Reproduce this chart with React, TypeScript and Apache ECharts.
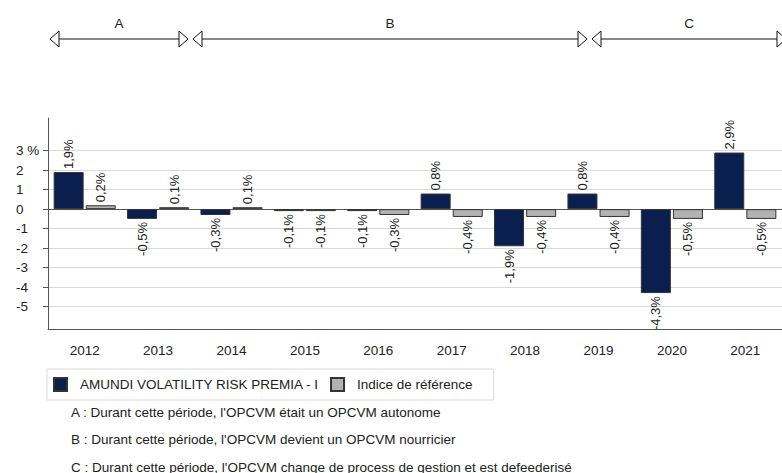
import React, { useEffect, useRef } from "react";
import * as echarts from "echarts";

const years = ["2012", "2013", "2014", "2015", "2016", "2017", "2018", "2019", "2020", "2021"];
const fundValues = [1.9, -0.5, -0.3, -0.1, -0.1, 0.8, -1.9, 0.8, -4.3, 2.9];
const benchValues = [0.2, 0.1, 0.1, -0.1, -0.3, -0.4, -0.4, -0.4, -0.5, -0.5];
const seriesNames = ["AMUNDI VOLATILITY RISK PREMIA - I", "Indice de référence"];
const yTicks = [-5, -4, -3, -2, -1, 0, 1, 2, 3];
const periodLabels = ["A", "B", "C"];
const footnotes = [
  "A : Durant cette période, l'OPCVM était un OPCVM autonome",
  "B : Durant cette période, l'OPCVM devient un OPCVM nourricier",
  "C : Durant cette période, l'OPCVM change de process de gestion et est defeederisé",
];

const FONT = "Liberation Sans, Arial, sans-serif";
const TEXT = "#222222";

const fmt = (v: number) => v.toFixed(1).replace(".", ",") + "%";

const posLabel = {
  show: true,
  position: "top",
  rotate: 90,
  align: "left",
  verticalAlign: "middle",
  distance: 3,
};
const negLabel = {
  show: true,
  position: "bottom",
  rotate: 90,
  align: "right",
  verticalAlign: "middle",
  distance: 3,
};

const toData = (arr: number[]) =>
  arr.map((v) => ({ value: v, label: v >= 0 ? posLabel : negLabel }));

// arrow spans (pixel layout only)
const arrowSpans = [
  [50, 188],
  [193, 587],
  [592, 786],
];

export default function App() {
  const ref = useRef<HTMLDivElement>(null);
  useEffect(() => {
    if (!ref.current) return;
    const chart = echarts.init(ref.current, undefined, { renderer: "svg" });

    const graphics: any[] = [];
    const lineY = 39;
    arrowSpans.forEach(([a, b], i) => {
      graphics.push({
        type: "line",
        shape: { x1: a + 9, y1: lineY, x2: b - 9, y2: lineY },
        style: { stroke: "#111", lineWidth: 1.2 },
      });
      graphics.push({
        type: "polygon",
        shape: { points: [[a, lineY], [a + 9, lineY - 8], [a + 9, lineY + 8]] },
        style: { fill: "#fff", stroke: "#111", lineWidth: 1 },
      });
      graphics.push({
        type: "polygon",
        shape: { points: [[b, lineY], [b - 9, lineY - 8], [b - 9, lineY + 8]] },
        style: { fill: "#fff", stroke: "#111", lineWidth: 1 },
      });
      graphics.push({
        type: "text",
        x: (a + b) / 2,
        y: 23,
        style: {
          text: periodLabels[i],
          fill: TEXT,
          font: `13.5px ${FONT}`,
          textAlign: "center",
          textVerticalAlign: "middle",
        },
      });
    });
    footnotes.forEach((t, i) => {
      graphics.push({
        type: "text",
        x: 71,
        y: 412 + i * 27.5,
        style: {
          text: t,
          fill: TEXT,
          font: `13.5px ${FONT}`,
          textAlign: "left",
          textVerticalAlign: "middle",
        },
      });
    });

    const gridColors = yTicks.map((v) => (v === 0 ? "#555555" : "#d9d9d9"));

    chart.setOption({
      animation: false,
      textStyle: { fontFamily: FONT },
      grid: { left: 48, top: 118, right: -12, bottom: 144, containLabel: false },
      legend: {
        left: 47,
        top: 369,
        orient: "horizontal",
        icon: "rect",
        itemWidth: 13,
        itemHeight: 13,
        itemGap: 11,
        padding: [8, 21, 8, 6],
        borderColor: "#d9d9d9",
        borderWidth: 1,
        textStyle: { fontSize: 13.5, color: TEXT, padding: [0, 0, 0, 8] },
        data: seriesNames,
      },
      xAxis: {
        type: "category",
        data: years,
        axisLine: { onZero: false, lineStyle: { color: "#555555", width: 1 } },
        axisTick: { alignWithLabel: true, length: 5, lineStyle: { color: "#555555" } },
        axisLabel: { fontSize: 13.5, color: TEXT, margin: 14 },
        splitLine: { show: false },
      },
      yAxis: {
        type: "value",
        min: -6.14,
        max: 4.67,
        axisLine: { show: true, lineStyle: { color: "#555555", width: 1 } },
        axisTick: { show: true, length: 5, customValues: yTicks, lineStyle: { color: "#555555" } },
        axisLabel: {
          customValues: yTicks,
          fontSize: 13.5,
          color: TEXT,
          align: "left",
          margin: 32,
          formatter: (v: number) => (v === 3 ? "3 %" : String(v)),
        },
        splitLine: { show: true, lineStyle: { color: gridColors, width: 1 } },
      },
      series: [
        {
          name: seriesNames[0],
          type: "bar",
          barWidth: 30,
          barGap: "7%",
          data: toData(fundValues),
          itemStyle: { color: "#0b1f4f", borderColor: "#333333", borderWidth: 1 },
          label: { fontSize: 13, color: TEXT, formatter: (p: any) => fmt(p.value) },
        },
        {
          name: seriesNames[1],
          type: "bar",
          barWidth: 30,
          data: toData(benchValues),
          itemStyle: { color: "#b2b2b2", borderColor: "#333333", borderWidth: 1 },
          label: { fontSize: 13, color: TEXT, formatter: (p: any) => fmt(p.value) },
        },
      ],
      graphic: graphics,
    });
    return () => chart.dispose();
  }, []);
  return (
    <div
      ref={ref}
      style={{ position: "fixed", left: 0, top: 0, width: 782, height: 473, background: "#fff" }}
    />
  );
}
